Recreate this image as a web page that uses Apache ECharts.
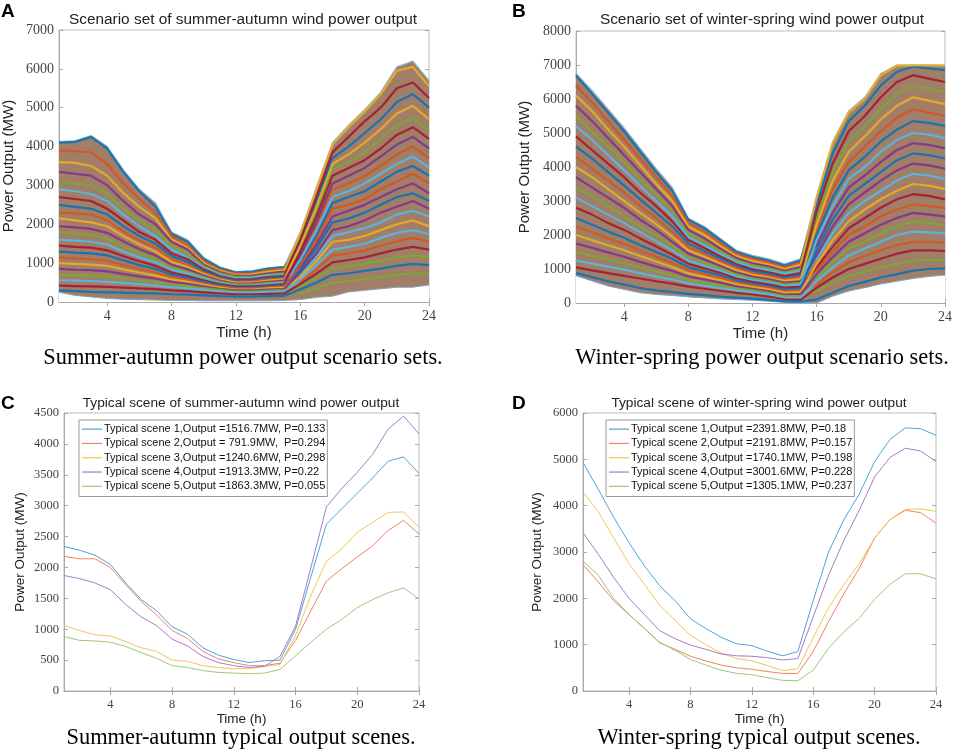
<!DOCTYPE html>
<html>
<head>
<meta charset="utf-8">
<script src="https://cdn.jsdelivr.net/npm/echarts@6/dist/echarts.min.js"></script>
<style>
  html, body { margin: 0; padding: 0; background: #fff; }
  #main { width: 955px; height: 751px; }
</style>
</head>
<body>
<div id="main"></div>
<script>
var hours = [1,2,3,4,5,6,7,8,9,10,11,12,13,14,15,16,17,18,19,20,21,22,23,24];
var hourTicks = [4,8,12,16,20,24];

// panel A: envelope and sample scenario curves (MW)
var summerUpper = [4130,4150,4280,4000,3400,2900,2550,1800,1600,1150,900,780,800,880,920,1800,2950,4100,4550,4950,5400,6050,6200,5700];
var summerLower = [250,170,130,90,70,60,50,40,40,30,30,30,30,30,40,60,120,150,260,300,340,380,380,440];
var summerScenarios = [
  [4100,4120,4250,3950,3350,2850,2450,1750,1550,1100,880,760,780,860,900,1500,2600,3700,4000,4350,4700,5150,5350,5000],
  [3900,3880,3850,3550,3050,2650,2300,1700,1450,1050,840,730,740,820,860,1150,1950,2900,3050,3250,3500,3800,4000,3700],
  [3600,3580,3500,3250,2800,2450,2150,1600,1400,1000,800,700,710,780,820,1750,2900,4050,4500,4900,5350,5950,6050,5550],
  [3350,3300,3250,3000,2600,2250,2000,1550,1350,960,770,670,680,740,780,880,1480,2200,2350,2500,2700,2900,3050,2800],
  [3100,3050,3000,2800,2400,2100,1850,1450,1250,920,740,640,650,700,740,1350,2300,3400,3600,3850,4200,4550,4750,4400],
  [2900,2850,2780,2600,2250,1950,1700,1350,1150,880,700,610,620,670,700,700,1150,1700,1800,1900,2050,2250,2350,2200],
  [2700,2650,2600,2400,2100,1800,1600,1250,1100,840,670,580,590,640,670,1600,2700,3850,4250,4650,5000,5500,5650,5250],
  [2500,2450,2400,2250,1950,1700,1500,1180,1030,800,640,550,560,610,640,1000,1700,2550,2700,2850,3100,3350,3500,3250],
  [2300,2280,2250,2100,1820,1580,1400,1100,960,760,610,520,530,580,610,520,840,1200,1250,1320,1450,1560,1650,1550],
  [2150,2100,2050,1950,1700,1480,1300,1030,900,720,580,500,500,550,580,1450,2450,3550,3800,4100,4450,4850,5050,4700],
  [1950,1920,1880,1780,1560,1360,1200,960,840,680,550,470,480,520,550,1200,2050,3050,3250,3450,3750,4050,4250,3950],
  [1800,1750,1720,1630,1430,1260,1100,890,780,640,520,450,450,490,520,400,620,860,920,980,1060,1150,1200,1150],
  [1600,1580,1550,1480,1300,1150,1020,830,730,600,490,420,420,460,490,1080,1850,2700,2850,3050,3300,3550,3750,3450],
  [1450,1420,1400,1330,1180,1050,930,760,670,560,460,400,400,430,460,1300,2200,3250,3450,3650,3950,4300,4500,4200],
  [1300,1270,1250,1200,1070,950,850,700,620,520,430,370,370,400,430,820,1380,2050,2150,2300,2500,2700,2800,2600],
  [1150,1120,1100,1060,950,850,760,640,570,480,400,350,350,380,400,950,1600,2400,2500,2650,2900,3100,3300,3050],
  [1000,980,960,930,840,760,680,580,520,440,370,320,320,350,370,640,1050,1550,1600,1700,1850,2000,2100,1950],
  [850,830,820,790,720,660,600,520,470,400,340,300,300,320,340,760,1250,1850,1950,2100,2300,2450,2600,2400],
  [700,690,680,660,610,560,510,450,410,360,310,270,270,290,310,220,350,500,540,590,640,700,740,730],
  [560,550,540,520,490,460,420,380,350,310,270,240,240,260,270,580,950,1350,1420,1500,1650,1780,1850,1750],
  [420,410,400,390,370,350,330,300,280,250,220,200,200,210,220,460,730,1020,1080,1150,1250,1350,1420,1350],
  [300,280,260,250,240,230,220,200,190,170,150,140,140,150,160,320,500,700,740,800,860,930,980,950]
];

// panel B
var winterUpper = [6750,6250,5700,5150,4550,3950,3400,2500,2250,1900,1550,1400,1300,1150,1300,3150,4750,5650,6050,6750,7000,7000,7000,7000];
var winterLower = [800,650,500,400,300,250,220,180,150,120,100,80,50,20,10,0,200,350,450,560,640,720,780,820];
var winterScenarios = [
  [6700,6150,5600,5050,4450,3850,3300,2450,2200,1850,1500,1350,1250,1100,1250,2900,4400,5350,5800,6400,6800,6950,6900,6850],
  [6400,5900,5350,4800,4250,3700,3150,2350,2100,1750,1450,1300,1200,1050,1180,2150,3350,4150,4600,5050,5450,5700,5600,5500],
  [6100,5650,5100,4600,4050,3500,3000,2250,2000,1680,1380,1230,1130,1000,1120,3100,4700,5600,6000,6700,6980,6990,6990,6980],
  [5800,5350,4850,4350,3850,3350,2850,2150,1900,1600,1320,1170,1080,950,1060,1700,2650,3400,3750,4150,4500,4700,4650,4550],
  [5500,5050,4600,4150,3650,3200,2700,2050,1800,1520,1260,1110,1020,900,1000,2500,3850,4750,5200,5700,6150,6400,6300,6200],
  [5200,4800,4350,3900,3450,3000,2550,1950,1700,1440,1200,1050,960,850,940,1300,2050,2650,3000,3300,3600,3800,3750,3650],
  [4900,4500,4100,3700,3250,2850,2400,1850,1620,1370,1140,990,900,800,880,2700,4100,5050,5500,6050,6500,6700,6600,6500],
  [4600,4250,3850,3450,3050,2650,2250,1750,1530,1300,1080,940,850,750,820,2000,3100,3900,4300,4750,5100,5350,5300,5200],
  [4300,3950,3600,3250,2850,2500,2100,1650,1450,1230,1020,880,800,700,760,950,1500,2000,2250,2550,2750,2900,2850,2800],
  [4000,3700,3350,3000,2650,2320,1950,1550,1360,1160,960,830,750,650,700,2300,3600,4450,4900,5400,5800,6050,5950,5850],
  [3700,3400,3100,2800,2450,2150,1800,1450,1280,1090,900,780,700,600,640,1400,2250,2900,3250,3600,3900,4100,4050,3950],
  [3400,3150,2850,2550,2250,1980,1680,1350,1190,1020,840,720,650,550,590,750,1200,1600,1800,2050,2250,2400,2350,2300],
  [3100,2850,2600,2350,2080,1820,1550,1250,1100,950,780,670,600,500,540,1850,2850,3650,4000,4450,4800,5000,4950,4850],
  [2800,2600,2350,2150,1900,1660,1420,1150,1020,880,720,620,550,450,480,1050,1650,2200,2500,2800,3050,3200,3150,3050],
  [2500,2300,2100,1920,1700,1500,1300,1050,930,810,660,570,500,400,430,1550,2450,3150,3500,3850,4200,4400,4350,4250],
  [2250,2080,1900,1740,1540,1360,1180,960,850,740,610,520,450,350,370,550,900,1200,1380,1550,1700,1800,1800,1780],
  [2000,1850,1700,1550,1380,1220,1060,870,770,670,550,470,400,300,320,1150,1850,2400,2750,3050,3300,3500,3450,3350],
  [1750,1620,1490,1360,1210,1070,940,780,690,600,490,420,350,250,260,850,1350,1800,2050,2300,2500,2650,2600,2550],
  [1500,1390,1280,1170,1050,930,820,680,600,520,430,370,300,200,200,350,600,800,920,1050,1150,1250,1270,1260],
  [1250,1160,1070,980,880,780,690,580,510,440,370,310,250,150,140,650,1050,1400,1600,1800,2000,2100,2080,2050],
  [1050,960,880,800,720,640,570,480,420,360,300,250,190,110,90,450,750,1000,1150,1300,1450,1550,1550,1530],
  [880,760,640,540,440,370,320,270,230,190,160,130,90,50,40,100,300,500,620,750,850,950,1000,1020]
];

// panel C: typical summer-autumn scenes
var summerNames = [
  'Typical scene 1,Output =1516.7MW, P=0.133',
  'Typical scene 2,Output = 791.9MW,  P=0.294',
  'Typical scene 3,Output =1240.6MW, P=0.298',
  'Typical scene 4,Output =1913.3MW, P=0.22',
  'Typical scene 5,Output =1863.3MW, P=0.055'
];
var summerScene1 = [2340,2280,2200,2050,1750,1480,1300,1040,920,700,580,510,460,490,500,1000,1850,2700,2950,3200,3450,3720,3790,3520];
var summerScene2 = [2180,2140,2140,2000,1720,1450,1230,980,850,640,520,460,410,410,450,820,1300,1780,1980,2170,2350,2600,2760,2540];
var summerScene3 = [1060,980,910,890,800,700,640,500,480,410,380,360,360,400,430,900,1550,2100,2300,2570,2730,2890,2900,2650];
var summerScene4 = [1870,1820,1750,1640,1400,1200,1060,840,730,560,460,410,380,400,560,1050,2000,2980,3280,3540,3830,4240,4450,4160];
var summerScene5 = [880,820,810,790,720,620,530,410,380,330,300,290,280,290,350,570,790,1000,1160,1350,1480,1590,1670,1490];

// panel D: typical winter-spring scenes
var winterNames = [
  'Typical scene 1,Output =2391.8MW, P=0.18',
  'Typical scene 2,Output =2191.8MW, P=0.157',
  'Typical scene 3,Output =1740.1MW, P=0.198',
  'Typical scene 4,Output =3001.6MW, P=0.228',
  'Typical scene 5,Output =1305.1MW, P=0.237'
];
var winterScene1 = [4930,4350,3750,3200,2700,2270,1950,1560,1350,1160,1020,980,860,760,850,1950,3000,3700,4250,4950,5430,5680,5660,5520];
var winterScene2 = [2730,2350,1950,1650,1350,1040,900,750,650,560,500,470,420,380,380,850,1500,2100,2650,3300,3700,3900,3850,3620];
var winterScene3 = [4300,3870,3300,2750,2300,1850,1530,1200,1000,820,700,650,550,440,480,1150,1800,2300,2750,3300,3700,3920,3930,3880];
var winterScene4 = [3420,2950,2450,2000,1650,1300,1130,990,900,800,760,750,720,670,700,1600,2500,3250,3900,4620,5040,5240,5180,4950];
var winterScene5 = [2800,2500,2000,1650,1350,1050,880,680,560,450,380,350,290,230,220,450,920,1280,1570,1980,2300,2530,2530,2420];

var matlabColors = ['#0072BD','#D95319','#EDB120','#7E2F8E','#77AC30','#4DBEEE','#A2142F'];
var sceneColors = ['#4DA3DB','#EE8366','#F3C65A','#A97BC4','#9CC97A'];

function pairs(vals) {
  return vals.map(function (v, i) { return [hours[i], v]; });
}

var grids = [
  { left: 58, right: 526, top: 30, bottom: 449 },
  { left: 576, right: 7, top: 31, bottom: 448 },
  { left: 64, right: 536, top: 413, bottom: 60 },
  { left: 583, right: 19, top: 413, bottom: 60 }
];
grids.forEach(function (g) {
  g.show = true; g.borderColor = '#bdbdbd'; g.borderWidth = 1; g.backgroundColor = '#fff';
});

var sansFont = 'Liberation Sans';
var serifFont = 'Liberation Serif';

function xAxisFor(gi, nameSize, nameGap, labelSize) {
  return {
    type: 'value', gridIndex: gi, min: 1, max: 24,
    name: 'Time (h)', nameLocation: 'middle', nameGap: nameGap,
    nameTextStyle: { fontFamily: sansFont, fontSize: nameSize, color: '#222' },
    axisLine: { lineStyle: { color: '#a8a8a8' } },
    axisTick: { inside: true, length: 4, customValues: hourTicks, lineStyle: { color: '#a8a8a8' } },
    axisLabel: { customValues: hourTicks, fontFamily: serifFont, fontSize: labelSize, color: '#444', margin: 7 },
    splitLine: { show: false }
  };
}
function xTopFor(gi) {
  return {
    type: 'value', gridIndex: gi, min: 1, max: 24, position: 'top',
    axisLine: { show: false },
    axisTick: { inside: true, length: 4, customValues: hourTicks, lineStyle: { color: '#a8a8a8' } },
    axisLabel: { show: false }, splitLine: { show: false }
  };
}
function yAxisFor(gi, max, interval, nameSize, nameGap, labelSize) {
  return {
    type: 'value', gridIndex: gi, min: 0, max: max, interval: interval,
    name: 'Power Output (MW)', nameLocation: 'middle', nameGap: nameGap,
    nameTextStyle: { fontFamily: sansFont, fontSize: nameSize, color: '#222' },
    axisLine: { show: true, lineStyle: { color: '#a8a8a8' } },
    axisTick: { show: true, inside: true, length: 4, lineStyle: { color: '#a8a8a8' } },
    axisLabel: { fontFamily: serifFont, fontSize: labelSize, color: '#444', margin: 5,
      formatter: function (v) { return String(v); } },
    splitLine: { show: false }
  };
}
function yRightFor(gi, max, interval) {
  return {
    type: 'value', gridIndex: gi, min: 0, max: max, interval: interval, position: 'right',
    axisLine: { show: false },
    axisTick: { show: true, inside: true, length: 4, lineStyle: { color: '#a8a8a8' } },
    axisLabel: { show: false }, splitLine: { show: false }
  };
}

var series = [];

function addScenarioPanel(gi, upper, lower, scenarios) {
  // mottled band: fill up to the upper envelope, then white below the lower envelope
  series.push({
    type: 'line', xAxisIndex: gi, yAxisIndex: gi, symbol: 'none', silent: true,
    data: pairs(upper), lineStyle: { width: 1.2, color: '#8fb4c8' },
    areaStyle: { color: '#a27d68', opacity: 1 }, z: 1
  });
  series.push({
    type: 'line', xAxisIndex: gi, yAxisIndex: gi, symbol: 'none', silent: true,
    data: pairs(lower), lineStyle: { width: 1, color: '#7fa6c0' },
    areaStyle: { color: '#ffffff', opacity: 1 }, z: 1
  });
  scenarios.forEach(function (s, k) {
    series.push({
      type: 'line', xAxisIndex: gi, yAxisIndex: gi, symbol: 'none', silent: true,
      data: pairs(s), lineStyle: { width: 2.2, color: matlabColors[k % matlabColors.length], opacity: 0.85 },
      z: 2
    });
  });
}
addScenarioPanel(0, summerUpper, summerLower, summerScenarios);
addScenarioPanel(1, winterUpper, winterLower, winterScenarios);

[summerScene1, summerScene2, summerScene3, summerScene4, summerScene5].forEach(function (s, k) {
  series.push({ type: 'line', name: summerNames[k], xAxisIndex: 2, yAxisIndex: 2, symbol: 'none',
    data: pairs(s), lineStyle: { width: 1, color: sceneColors[k] }, itemStyle: { color: sceneColors[k] } });
});
[winterScene1, winterScene2, winterScene3, winterScene4, winterScene5].forEach(function (s, k) {
  series.push({ type: 'line', name: winterNames[k], xAxisIndex: 3, yAxisIndex: 3, symbol: 'none',
    data: pairs(s), lineStyle: { width: 1, color: sceneColors[k] }, itemStyle: { color: sceneColors[k] } });
});

function legendFor(names, left) {
  return {
    data: names, orient: 'vertical', left: left, top: 420,
    padding: [2, 2, 3, 3], itemGap: 0, itemWidth: 20, itemHeight: 1.2, icon: 'rect',
    backgroundColor: '#fff', borderColor: '#9a9a9a', borderWidth: 1,
    selectedMode: false,
    textStyle: { fontFamily: sansFont, fontSize: 11, lineHeight: 14.3, color: '#111', padding: [0, 0, 0, -3] }
  };
}

function letter(text, x, y) {
  return { type: 'text', position: [x, y], style: { text: text, font: 'bold 19px ' + sansFont, fill: '#000' } };
}
function centredText(text, cx, cy, font, color) {
  return { type: 'text', position: [cx, cy], style: { text: text, textAlign: 'center', textVerticalAlign: 'middle',
    font: font, fill: color } };
}

var option = {
  animation: false,
  grid: grids,
  xAxis: [xAxisFor(0, 15, 23, 14), xAxisFor(1, 15, 23, 14), xAxisFor(2, 13.5, 21, 12.5), xAxisFor(3, 13.5, 21, 12.5),
          xTopFor(0), xTopFor(1), xTopFor(2), xTopFor(3)],
  yAxis: [yAxisFor(0, 7000, 1000, 15, 43, 14), yAxisFor(1, 8000, 1000, 15, 44, 14),
          yAxisFor(2, 4500, 500, 13.5, 37, 12.5), yAxisFor(3, 6000, 1000, 13.5, 39, 12.5),
          yRightFor(0, 7000, 1000), yRightFor(1, 8000, 1000), yRightFor(2, 4500, 500), yRightFor(3, 6000, 1000)],
  legend: [legendFor(summerNames, 79), legendFor(winterNames, 606)],
  series: series,
  graphic: [
    letter('A', 1, 2), letter('B', 512, 2), letter('C', 1, 394), letter('D', 512, 394),
    centredText('Scenario set of summer-autumn wind power output', 243, 20, '15.4px ' + sansFont, '#222'),
    centredText('Scenario set of winter-spring wind power output', 762, 20, '15.4px ' + sansFont, '#222'),
    centredText('Typical scene of summer-autumn wind power output', 241, 403, '13.7px ' + sansFont, '#222'),
    centredText('Typical scene of winter-spring wind power output', 759, 403, '13.7px ' + sansFont, '#222'),
    centredText('Summer-autumn power output scenario sets.', 243, 358, '22.4px ' + serifFont, '#000'),
    centredText('Winter-spring power output scenario sets.', 762, 358, '22.4px ' + serifFont, '#000'),
    centredText('Summer-autumn typical output scenes.', 241, 738, '22.4px ' + serifFont, '#000'),
    centredText('Winter-spring typical output scenes.', 759, 738, '22.4px ' + serifFont, '#000')
  ]
};

var chart = echarts.init(document.getElementById('main'));
chart.setOption(option);
</script>
</body>
</html>
